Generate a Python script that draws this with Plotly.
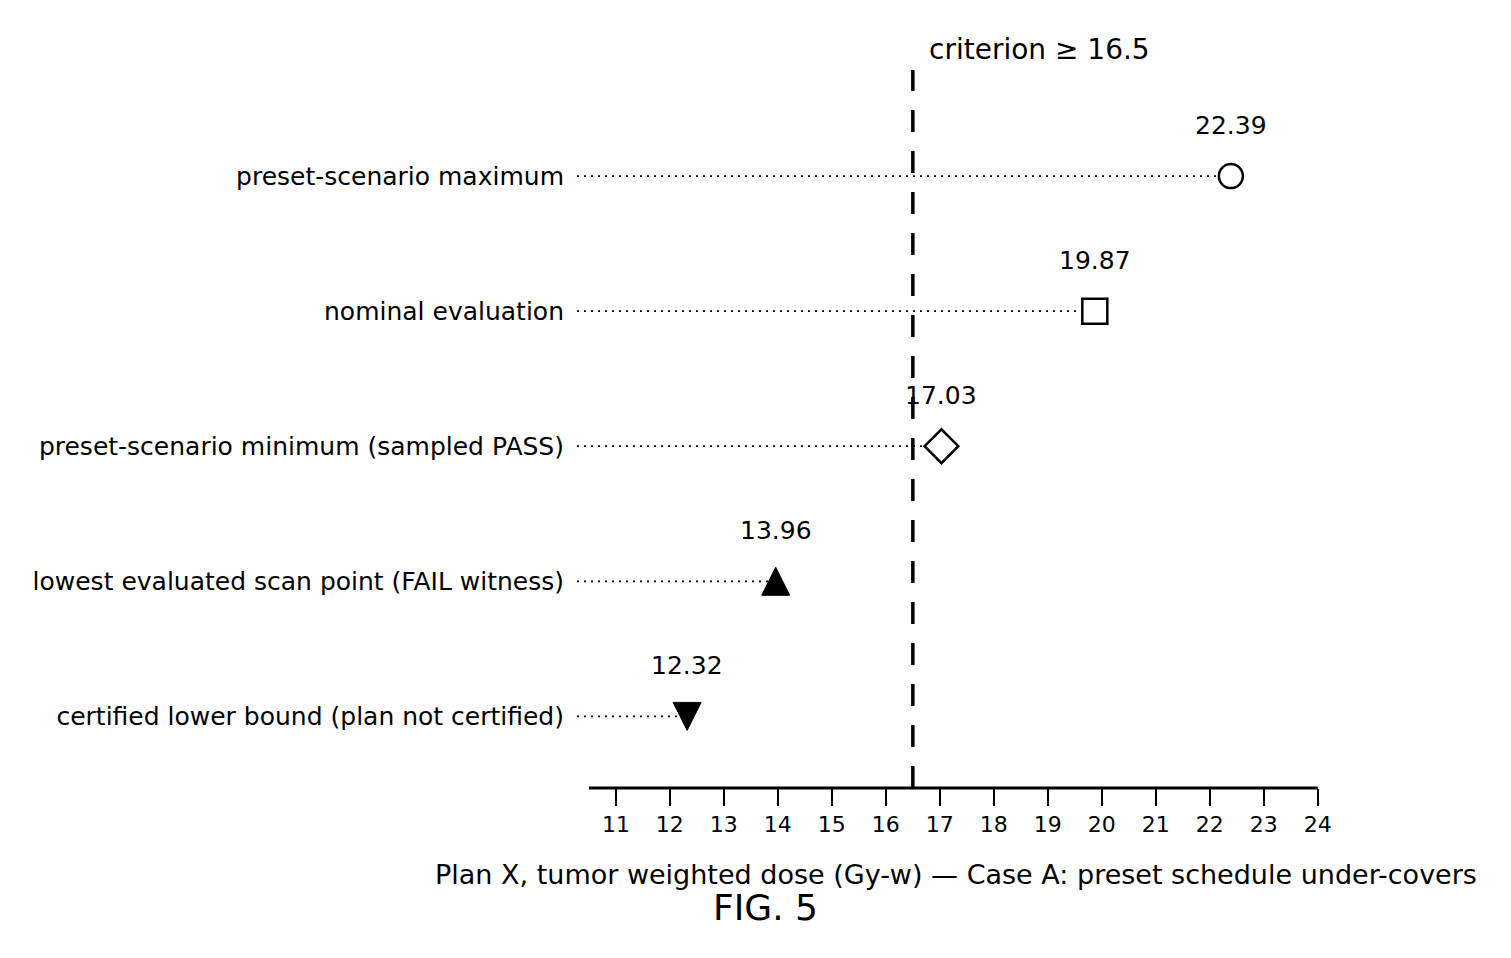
import plotly.graph_objects as go

# rows, top to bottom
categories = [
    "preset-scenario maximum",
    "nominal evaluation",
    "preset-scenario minimum (sampled PASS)",
    "lowest evaluated scan point (FAIL witness)",
    "certified lower bound (plan not certified)",
]
doses = [22.39, 19.87, 17.03, 13.96, 12.32]
dose_labels = ["22.39", "19.87", "17.03", "13.96", "12.32"]
criterion = 16.5
x_ticks = list(range(11, 25))

FONT = "DejaVu Sans"
X_MIN, X_MAX = 10.28, 24.3
AXIS_START, AXIS_END = 10.5, 24

# arrow symbols are tip-anchored; standoff pulls them back to be centred on the point
# (the up triangle is the down arrow turned 180 degrees)
symbols = ["circle", "square", "diamond", "arrow-down", "arrow-down"]
angles = [0, 0, 0, 180, 0]
fills = ["white", "white", "white", "black", "black"]
sizes = [24, 25, 26, 28, 28]
standoffs = [0, 0, 0, 14, 14]
line_widths = [2.5, 2.5, 2.5, 1, 1]

rows = list(range(len(categories)))

# page has an 8px body margin, so figure is a bit smaller than the window
W, H = 1503, 950
L, R, T, B = 569, 177, 62, 170
PW, PH = W - L - R, H - T - B

fig = go.Figure()

# dotted leader lines
for i, v in zip(rows, doses):
    fig.add_trace(go.Scatter(
        x=[X_MIN, v], y=[i, i], mode="lines",
        line=dict(color="black", width=1.7, dash="2px,5px"),
        hoverinfo="skip", showlegend=False,
    ))

# criterion line
fig.add_shape(type="line", xref="x", yref="paper", x0=criterion, x1=criterion,
              y0=0, y1=1, line=dict(color="black", width=3.5, dash="22px,19px"))

fig.add_trace(go.Scatter(
    x=doses, y=rows, mode="markers",
    marker=dict(symbol=symbols, angle=angles, size=sizes, color=fills, opacity=1,
                standoff=standoffs, line=dict(color="black", width=line_widths)),
    showlegend=False,
))

for i, v, t in zip(rows, doses, dose_labels):
    fig.add_annotation(x=v, y=i, text=t, showarrow=False, yshift=51,
                       font=dict(family=FONT, size=25, color="black"))

fig.add_annotation(x=criterion, y=1, xref="x", yref="paper", text="criterion \u2265 16.5",
                   showarrow=False, xanchor="left", yanchor="middle", xshift=14, yshift=21,
                   font=dict(family=FONT, size=28, color="black"))

# bottom axis spine limited to the tick span
fig.add_shape(type="line", xref="x", yref="paper", x0=AXIS_START, x1=AXIS_END,
              y0=0, y1=0, line=dict(color="black", width=3))

fig.add_annotation(x=0.5, y=-86 / PH, xref="paper", yref="paper",
                   xanchor="center", yanchor="middle",
                   text="Plan X, tumor weighted dose (Gy-w) \u2014 Case A: preset schedule under-covers",
                   showarrow=False, font=dict(family=FONT, size=27, color="black"))
fig.add_annotation(x=(757 - L) / PW, y=1 - (900 - T) / PH, xref="paper", yref="paper",
                   xanchor="center", yanchor="middle", text="FIG. 5",
                   showarrow=False, font=dict(family=FONT, size=36, color="black"))

fig.update_layout(
    width=W, height=H,
    margin=dict(l=L, r=R, t=T, b=B),
    paper_bgcolor="white", plot_bgcolor="white",
    font=dict(family=FONT, color="black"),
    xaxis=dict(range=[X_MIN, X_MAX], tickvals=x_ticks, ticktext=[str(t) for t in x_ticks],
               ticks="outside", ticklen=17, tickwidth=2, tickcolor="black",
               showgrid=False, zeroline=False, showline=False,
               tickfont=dict(family=FONT, size=22, color="black")),
    yaxis=dict(range=[4.53, -0.785], tickvals=rows, ticktext=categories,
               ticks="", showgrid=False, zeroline=False, showline=False,
               ticklabelstandoff=12,
               tickfont=dict(family=FONT, size=25, color="black")),
)

fig.write_html("out.html")
